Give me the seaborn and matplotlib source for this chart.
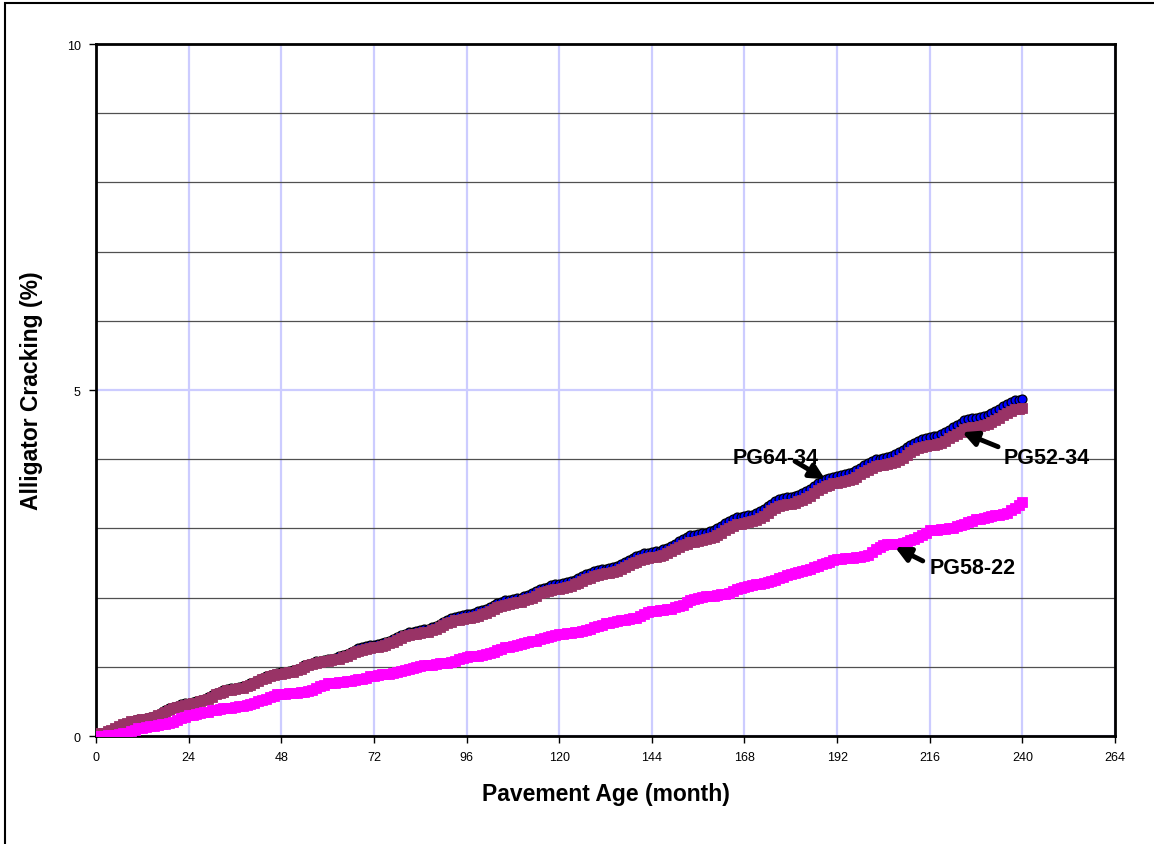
import numpy as np
import pandas as pd
import matplotlib
matplotlib.use("Agg")
import matplotlib.pyplot as plt
from matplotlib.patches import Rectangle
from matplotlib.ticker import MultipleLocator
import seaborn as sns

# Pavement age in months (monthly predictions over a 20-year design life)
months = list(range(0, 241))

# Alligator cracking (%) predicted for each binder grade
pg64_34 = [
    0.03,
    0.04, 0.05, 0.07, 0.09, 0.11, 0.14, 0.17, 0.19, 0.21, 0.23, 0.24, 0.25,
    0.26, 0.27, 0.29, 0.31, 0.34, 0.37, 0.40, 0.42, 0.44, 0.46, 0.47, 0.48,
    0.49, 0.50, 0.52, 0.54, 0.56, 0.59, 0.62, 0.64, 0.66, 0.68, 0.69, 0.70,
    0.71, 0.72, 0.74, 0.76, 0.78, 0.81, 0.84, 0.86, 0.88, 0.90, 0.91, 0.92,
    0.93, 0.94, 0.95, 0.97, 0.99, 1.02, 1.04, 1.06, 1.08, 1.09, 1.10, 1.11,
    1.12, 1.13, 1.15, 1.17, 1.19, 1.22, 1.25, 1.27, 1.29, 1.30, 1.31, 1.32,
    1.33, 1.34, 1.36, 1.38, 1.40, 1.43, 1.46, 1.48, 1.50, 1.51, 1.52, 1.53,
    1.54, 1.55, 1.57, 1.59, 1.62, 1.65, 1.68, 1.70, 1.72, 1.74, 1.75, 1.76,
    1.77, 1.78, 1.80, 1.82, 1.84, 1.87, 1.90, 1.92, 1.94, 1.96, 1.97, 1.98,
    1.99, 2.00, 2.02, 2.04, 2.06, 2.09, 2.12, 2.14, 2.16, 2.18, 2.19, 2.20,
    2.21, 2.22, 2.24, 2.26, 2.28, 2.31, 2.34, 2.36, 2.38, 2.40, 2.41, 2.42,
    2.43, 2.44, 2.46, 2.48, 2.51, 2.54, 2.57, 2.60, 2.62, 2.64, 2.65, 2.66,
    2.67, 2.68, 2.70, 2.72, 2.75, 2.78, 2.82, 2.85, 2.88, 2.90, 2.91, 2.92,
    2.93, 2.94, 2.96, 2.98, 3.01, 3.04, 3.08, 3.11, 3.14, 3.16, 3.17, 3.18,
    3.19, 3.20, 3.22, 3.25, 3.28, 3.32, 3.36, 3.39, 3.42, 3.44, 3.45, 3.46,
    3.47, 3.49, 3.51, 3.54, 3.57, 3.61, 3.65, 3.68, 3.71, 3.73, 3.75, 3.76,
    3.77, 3.78, 3.80, 3.82, 3.85, 3.88, 3.92, 3.95, 3.98, 4.00, 4.01, 4.02,
    4.03, 4.05, 4.07, 4.10, 4.13, 4.17, 4.21, 4.24, 4.27, 4.29, 4.31, 4.32,
    4.33, 4.34, 4.36, 4.39, 4.42, 4.46, 4.50, 4.53, 4.56, 4.58, 4.59, 4.60,
    4.61, 4.62, 4.64, 4.67, 4.70, 4.73, 4.77, 4.80, 4.83, 4.85, 4.86, 4.87,
]

pg52_34 = [
    0.03,
    0.04, 0.05, 0.07, 0.09, 0.11, 0.14, 0.17, 0.19, 0.21, 0.22, 0.23, 0.24,
    0.25, 0.26, 0.28, 0.30, 0.32, 0.35, 0.38, 0.40, 0.42, 0.44, 0.45, 0.46,
    0.47, 0.48, 0.50, 0.52, 0.54, 0.57, 0.60, 0.62, 0.64, 0.66, 0.67, 0.68,
    0.69, 0.70, 0.72, 0.74, 0.76, 0.79, 0.82, 0.84, 0.86, 0.88, 0.89, 0.90,
    0.91, 0.92, 0.93, 0.95, 0.97, 1.00, 1.02, 1.04, 1.06, 1.07, 1.08, 1.09,
    1.10, 1.11, 1.12, 1.14, 1.16, 1.19, 1.21, 1.23, 1.25, 1.26, 1.27, 1.28,
    1.29, 1.30, 1.32, 1.34, 1.36, 1.39, 1.42, 1.44, 1.46, 1.47, 1.48, 1.49,
    1.50, 1.51, 1.53, 1.55, 1.57, 1.60, 1.63, 1.65, 1.67, 1.68, 1.69, 1.70,
    1.71, 1.72, 1.74, 1.76, 1.78, 1.81, 1.84, 1.86, 1.88, 1.90, 1.91, 1.92,
    1.93, 1.94, 1.96, 1.98, 2.00, 2.03, 2.06, 2.08, 2.10, 2.11, 2.12, 2.13,
    2.14, 2.15, 2.17, 2.19, 2.21, 2.24, 2.27, 2.29, 2.31, 2.33, 2.34, 2.35,
    2.36, 2.37, 2.39, 2.41, 2.44, 2.47, 2.50, 2.52, 2.54, 2.56, 2.57, 2.58,
    2.59, 2.60, 2.62, 2.64, 2.67, 2.70, 2.73, 2.76, 2.78, 2.80, 2.81, 2.82,
    2.83, 2.84, 2.86, 2.88, 2.91, 2.94, 2.98, 3.01, 3.04, 3.06, 3.07, 3.08,
    3.09, 3.10, 3.12, 3.15, 3.18, 3.22, 3.26, 3.29, 3.32, 3.34, 3.35, 3.36,
    3.37, 3.39, 3.41, 3.44, 3.47, 3.51, 3.55, 3.58, 3.61, 3.63, 3.65, 3.66,
    3.67, 3.68, 3.70, 3.72, 3.75, 3.78, 3.82, 3.85, 3.88, 3.90, 3.91, 3.92,
    3.93, 3.94, 3.96, 3.99, 4.02, 4.06, 4.10, 4.13, 4.16, 4.18, 4.19, 4.20,
    4.21, 4.22, 4.24, 4.27, 4.30, 4.33, 4.37, 4.40, 4.43, 4.45, 4.46, 4.47,
    4.48, 4.49, 4.51, 4.54, 4.57, 4.60, 4.64, 4.67, 4.70, 4.72, 4.73, 4.74,
]

pg58_22 = [
    0.00,
    0.00, 0.00, 0.01, 0.01, 0.02, 0.03, 0.04, 0.05, 0.07, 0.09, 0.11, 0.12,
    0.13, 0.14, 0.15, 0.16, 0.17, 0.18, 0.19, 0.20, 0.23, 0.26, 0.28, 0.30,
    0.31, 0.32, 0.33, 0.34, 0.35, 0.37, 0.38, 0.39, 0.40, 0.41, 0.41, 0.42,
    0.43, 0.44, 0.45, 0.46, 0.48, 0.50, 0.52, 0.54, 0.56, 0.58, 0.60, 0.61,
    0.61, 0.62, 0.62, 0.62, 0.63, 0.64, 0.65, 0.66, 0.69, 0.72, 0.74, 0.76,
    0.77, 0.77, 0.78, 0.78, 0.79, 0.80, 0.81, 0.82, 0.83, 0.84, 0.86, 0.87,
    0.88, 0.89, 0.89, 0.90, 0.91, 0.92, 0.94, 0.95, 0.97, 0.99, 1.00, 1.01,
    1.02, 1.03, 1.03, 1.04, 1.05, 1.05, 1.06, 1.07, 1.09, 1.11, 1.13, 1.14,
    1.15, 1.16, 1.16, 1.17, 1.18, 1.20, 1.22, 1.24, 1.26, 1.28, 1.29, 1.30,
    1.31, 1.33, 1.34, 1.36, 1.37, 1.38, 1.40, 1.41, 1.43, 1.45, 1.46, 1.47,
    1.48, 1.49, 1.49, 1.50, 1.51, 1.52, 1.53, 1.55, 1.57, 1.59, 1.61, 1.63,
    1.64, 1.65, 1.66, 1.67, 1.68, 1.69, 1.70, 1.71, 1.74, 1.77, 1.79, 1.80,
    1.81, 1.82, 1.82, 1.83, 1.84, 1.86, 1.88, 1.90, 1.93, 1.96, 1.98, 2.00,
    2.01, 2.02, 2.02, 2.03, 2.04, 2.05, 2.05, 2.06, 2.09, 2.12, 2.14, 2.16,
    2.17, 2.18, 2.19, 2.20, 2.21, 2.23, 2.24, 2.26, 2.28, 2.30, 2.32, 2.34,
    2.35, 2.37, 2.38, 2.40, 2.42, 2.44, 2.46, 2.48, 2.50, 2.52, 2.54, 2.56,
    2.56, 2.57, 2.57, 2.57, 2.58, 2.59, 2.60, 2.62, 2.66, 2.70, 2.73, 2.76,
    2.77, 2.77, 2.78, 2.78, 2.79, 2.81, 2.83, 2.85, 2.88, 2.91, 2.94, 2.97,
    2.98, 2.98, 2.99, 2.99, 3.00, 3.01, 3.03, 3.05, 3.07, 3.09, 3.11, 3.13,
    3.14, 3.15, 3.16, 3.18, 3.19, 3.20, 3.21, 3.22, 3.26, 3.30, 3.34, 3.38,
]

x_ticks = list(range(0, 265, 24))
y_ticks = [0, 5, 10]

df = pd.DataFrame({
    "month": months,
    "PG64-34": pg64_34,
    "PG52-34": pg52_34,
    "PG58-22": pg58_22,
})

sns.set_style("white")
plt.rcParams["font.family"] = ["Liberation Sans", "DejaVu Sans"]
plt.rcParams["text.color"] = "black"
plt.rcParams["axes.labelcolor"] = "black"

fig = plt.figure(figsize=(11.54, 8.45), dpi=100)
ax = fig.add_axes([0.0832, 0.1278, 0.8830, 0.8189])

# series, drawn back to front
sns.lineplot(data=df, x="month", y="PG64-34", ax=ax, color="#000080", lw=1.2,
             marker="o", markersize=6.4, markerfacecolor="#0000FF",
             markeredgecolor="black", markeredgewidth=0.9, zorder=3)
sns.lineplot(data=df, x="month", y="PG52-34", ax=ax, color="#993366", lw=2.0,
             marker="s", markersize=6.6, markerfacecolor="#993366",
             markeredgecolor="#993366", markeredgewidth=0.6, zorder=4)
sns.lineplot(data=df, x="month", y="PG58-22", ax=ax, color="#FF00FF", lw=3.0,
             marker="s", markersize=7.4, markerfacecolor="#FF00FF",
             markeredgecolor="#FF00FF", markeredgewidth=0.6, zorder=4)

ax.set_xlim(0, 264)
ax.set_ylim(0, 10)
ax.set_xticks(x_ticks)
ax.set_yticks(y_ticks)
ax.yaxis.set_minor_locator(MultipleLocator(1))
ax.set_axisbelow(True)
ax.grid(which="major", axis="both", color="#CCCCFF", lw=1.6)
ax.grid(which="minor", axis="y", color="#505050", lw=0.9)
ax.tick_params(which="major", direction="out", length=5, width=1, pad=6,
               labelsize=9, colors="black", left=True, bottom=True)
ax.tick_params(which="minor", length=0)

for side in ["left", "bottom", "top", "right"]:
    ax.spines[side].set_visible(True)
    ax.spines[side].set_color("black")
    ax.spines[side].set_linewidth(2.0)

ax.set_xlabel("Pavement Age (month)", fontsize=16.5, fontweight="bold", va="top")
ax.set_ylabel("Alligator Cracking (%)", fontsize=16.5, fontweight="bold", va="bottom")
ax.xaxis.set_label_coords(0.5, -0.066)
ax.yaxis.set_label_coords(-0.052, 0.5)

# series labels with pointer arrows
arrow = dict(arrowstyle="-|>", lw=3.5, color="black", mutation_scale=22,
             shrinkA=0, shrinkB=0)
ax.text(165.0, 4.03, "PG64-34", fontsize=15.5, fontweight="bold", ha="left", va="center", zorder=6)
ax.annotate("", xy=(188.9, 3.71), xytext=(181.1, 3.97), arrowprops=arrow, zorder=6)
ax.text(235.2, 4.02, "PG52-34", fontsize=15.5, fontweight="bold", ha="left", va="center", zorder=6)
ax.annotate("", xy=(224.4, 4.39), xytext=(233.7, 4.18), arrowprops=arrow, zorder=6)
ax.text(216.1, 2.43, "PG58-22", fontsize=15.5, fontweight="bold", ha="left", va="center", zorder=6)
ax.annotate("", xy=(207.0, 2.73), xytext=(214.2, 2.53), arrowprops=arrow, zorder=6)

# outer chart frame
fig.patches.append(Rectangle((5 / 1154, -0.1), 1.2, 0.1 + 1 - 4 / 845,
                             transform=fig.transFigure, fill=False,
                             edgecolor="black", lw=1.5))

fig.savefig("out.png", dpi=100)
